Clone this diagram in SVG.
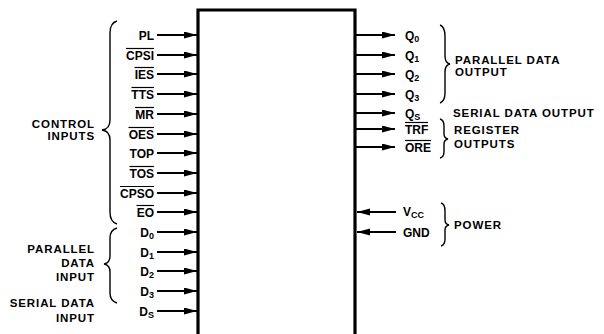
<svg xmlns="http://www.w3.org/2000/svg" width="604" height="334" viewBox="0 0 604 334">
<defs>
<marker id="ah" markerUnits="userSpaceOnUse" markerWidth="14" markerHeight="8" refX="13" refY="3.5" orient="auto">
<path d="M0,0 L13,3.5 L0,7 z" fill="#000"/>
</marker>
<style>
text{font-family:"Liberation Sans",Arial,Helvetica,sans-serif;font-weight:bold;fill:#000}
.pin{font-size:12px}
.lp{text-anchor:end}
.grp{font-size:11.5px;letter-spacing:0.9px}
.sub{font-size:9px}
.ob{stroke:#000;stroke-width:1.2}
.ar{stroke:#000;stroke-width:2;fill:none;marker-end:url(#ah)}
.br{stroke:#000;stroke-width:1.4;fill:none}
.box{stroke:#000;stroke-width:3.2;fill:#fff}
</style>
</defs>
<rect width="604" height="334" fill="#fff"/>

<g id="chip"><path class="box" d="M198,336 V10 H355 V336"/></g>

<g id="connectors">
<line class="ar" x1="157" y1="35" x2="197" y2="35"/>
<line class="ar" x1="157" y1="55" x2="197" y2="55"/>
<line class="ar" x1="157" y1="74" x2="197" y2="74"/>
<line class="ar" x1="157" y1="94" x2="197" y2="94"/>
<line class="ar" x1="157" y1="114" x2="197" y2="114"/>
<line class="ar" x1="157" y1="134" x2="197" y2="134"/>
<line class="ar" x1="157" y1="153" x2="197" y2="153"/>
<line class="ar" x1="157" y1="173" x2="197" y2="173"/>
<line class="ar" x1="157" y1="193" x2="197" y2="193"/>
<line class="ar" x1="157" y1="212" x2="197" y2="212"/>
<line class="ar" x1="157" y1="232" x2="197" y2="232"/>
<line class="ar" x1="157" y1="252" x2="197" y2="252"/>
<line class="ar" x1="157" y1="271" x2="197" y2="271"/>
<line class="ar" x1="157" y1="291" x2="197" y2="291"/>
<line class="ar" x1="157" y1="311" x2="197" y2="311"/>
<line class="ar" x1="356" y1="35" x2="395" y2="35"/>
<line class="ar" x1="356" y1="55" x2="395" y2="55"/>
<line class="ar" x1="356" y1="74" x2="395" y2="74"/>
<line class="ar" x1="356" y1="94" x2="395" y2="94"/>
<line class="ar" x1="356" y1="113" x2="395" y2="113"/>
<line class="ar" x1="356" y1="129" x2="395" y2="129"/>
<line class="ar" x1="356" y1="147" x2="395" y2="147"/>
<line class="ar" x1="396" y1="212" x2="357" y2="212"/>
<line class="ar" x1="396" y1="232" x2="357" y2="232"/>
</g>

<g id="pin-PL"><text class="pin lp" x="154" y="39.5">PL</text></g>
<g id="pin-CPSI"><text class="pin lp" x="154" y="59.5">CPSI</text><line class="ob" x1="126" y1="48.5" x2="154" y2="48.5"/></g>
<g id="pin-IES"><text class="pin lp" x="154" y="78.5">IES</text><line class="ob" x1="134.5" y1="67.5" x2="154" y2="67.5"/></g>
<g id="pin-TTS"><text class="pin lp" x="154" y="98.5">TTS</text><line class="ob" x1="131.5" y1="87.5" x2="154" y2="87.5"/></g>
<g id="pin-MR"><text class="pin lp" x="154" y="118.5">MR</text><line class="ob" x1="135" y1="107.5" x2="154" y2="107.5"/></g>
<g id="pin-OES"><text class="pin lp" x="154" y="138.5">OES</text><line class="ob" x1="128.5" y1="127.5" x2="154" y2="127.5"/></g>
<g id="pin-TOP"><text class="pin lp" x="154" y="157.5">TOP</text></g>
<g id="pin-TOS"><text class="pin lp" x="154" y="177.5">TOS</text><line class="ob" x1="129.5" y1="166.5" x2="154" y2="166.5"/></g>
<g id="pin-CPSO"><text class="pin lp" x="154" y="197.5">CPSO</text><line class="ob" x1="120" y1="186.5" x2="154" y2="186.5"/></g>
<g id="pin-EO"><text class="pin lp" x="154" y="216.5">EO</text><line class="ob" x1="136.5" y1="205.5" x2="154" y2="205.5"/></g>
<g id="pin-D0"><text class="pin lp" x="154" y="236.5">D<tspan class="sub" dy="2.5">0</tspan></text></g>
<g id="pin-D1"><text class="pin lp" x="154" y="256.5">D<tspan class="sub" dy="2.5">1</tspan></text></g>
<g id="pin-D2"><text class="pin lp" x="154" y="275.5">D<tspan class="sub" dy="2.5">2</tspan></text></g>
<g id="pin-D3"><text class="pin lp" x="154" y="295.5">D<tspan class="sub" dy="2.5">3</tspan></text></g>
<g id="pin-DS"><text class="pin lp" x="154" y="315.5">D<tspan class="sub" dy="2.5">S</tspan></text></g>

<g id="pin-Q0"><text class="pin" x="405" y="39.5">Q<tspan class="sub" dy="2.5">0</tspan></text></g>
<g id="pin-Q1"><text class="pin" x="405" y="59.5">Q<tspan class="sub" dy="2.5">1</tspan></text></g>
<g id="pin-Q2"><text class="pin" x="405" y="78.5">Q<tspan class="sub" dy="2.5">2</tspan></text></g>
<g id="pin-Q3"><text class="pin" x="405" y="98.5">Q<tspan class="sub" dy="2.5">3</tspan></text></g>
<g id="pin-QS"><text class="pin" x="405" y="117.5">Q<tspan class="sub" dy="2.5">S</tspan></text></g>
<g id="pin-TRF"><text class="pin" x="405" y="133.5">TRF</text><line class="ob" x1="405" y1="122.5" x2="428" y2="122.5"/></g>
<g id="pin-ORE"><text class="pin" x="405" y="151.5">ORE</text><line class="ob" x1="405" y1="140.5" x2="431" y2="140.5"/></g>
<g id="pin-VCC"><text class="pin" x="403" y="215.5">V<tspan class="sub" dy="2.5">CC</tspan></text></g>
<g id="pin-GND"><text class="pin" x="403" y="236.5">GND</text></g>

<g id="control-inputs">
<path class="br" d="M117,21 Q110,23 110,33 L110,120 Q110,129 102,130 Q110,131 110,140 L110,212 Q110,222 117,224"/>
<text class="grp lp" x="95" y="128">CONTROL</text>
<text class="grp lp" x="95" y="140">INPUTS</text>
</g>
<g id="parallel-data-input">
<path class="br" d="M117,228 Q110,230 110,238 L110,256 Q110,263 104,264 Q110,265 110,272 L110,293 Q110,301 117,303"/>
<text class="grp lp" x="95" y="253">PARALLEL</text>
<text class="grp lp" x="95" y="267">DATA</text>
<text class="grp lp" x="95" y="281">INPUT</text>
</g>
<g id="serial-data-input">
<text class="grp lp" x="95" y="307">SERIAL DATA</text>
<text class="grp lp" x="95" y="322">INPUT</text>
</g>
<g id="parallel-data-output">
<path class="br" d="M440,25 Q445,27 445,36 L445,56 Q445,63 450,64 Q445,65 445,72 L445,93 Q445,101 440,103"/>
<text class="grp" x="455" y="64">PARALLEL DATA</text>
<text class="grp" x="455" y="76">OUTPUT</text>
</g>
<g id="serial-data-output">
<text class="grp" x="453" y="117">SERIAL DATA OUTPUT</text>
</g>
<g id="register-outputs">
<path class="br" d="M440,119 Q444,120 444,126 L444,134 Q444,138 448,139 Q444,140 444,144 L444,152 Q444,157 440,158"/>
<text class="grp" x="454" y="134">REGISTER</text>
<text class="grp" x="454" y="148">OUTPUTS</text>
</g>
<g id="power">
<path class="br" d="M441,203 Q445,204 445,211 L445,220 Q445,224 449,225 Q445,226 445,230 L445,239 Q445,245 441,246"/>
<text class="grp" x="454" y="229">POWER</text>
</g>
</svg>
